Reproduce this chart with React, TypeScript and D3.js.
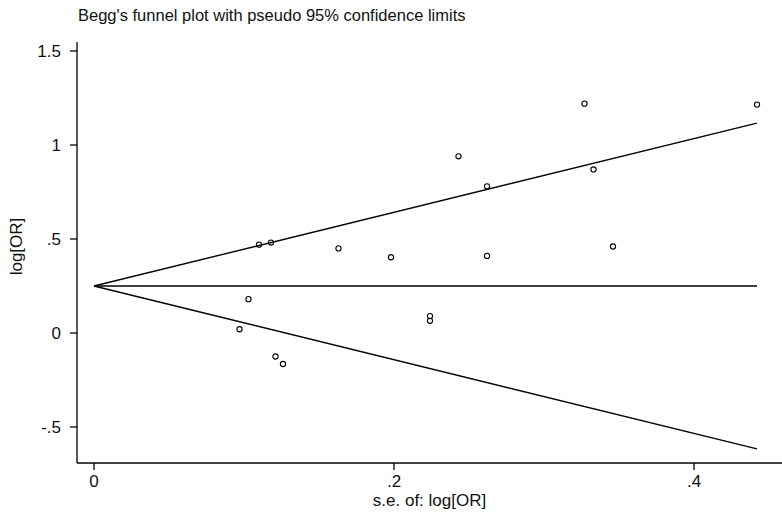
import React from "react";
import * as d3 from "d3";

const seValues = [0.097, 0.103, 0.11, 0.118, 0.121, 0.126, 0.163, 0.198, 0.224, 0.224, 0.243, 0.262, 0.262, 0.327, 0.333, 0.346, 0.442];
const logOrValues = [0.02, 0.18, 0.47, 0.481, -0.125, -0.165, 0.45, 0.403, 0.09, 0.065, 0.94, 0.78, 0.41, 1.22, 0.87, 0.46, 1.215];
const xTicks = [0, 0.2, 0.4];
const xTickLabels = ["0", ".2", ".4"];
const yTicks = [-0.5, 0, 0.5, 1, 1.5];
const yTickLabels = ["-.5", "0", ".5", "1", "1.5"];
const pooled = 0.25;
const title = "Begg's funnel plot with pseudo 95% confidence limits";
const xLabel = "s.e. of: log[OR]";
const yLabel = "log[OR]";

export default function App() {
  const W = 782, H = 517;
  const x = d3.scaleLinear().domain([0, 0.4]).range([94, 694]);
  const y = d3.scaleLinear().domain([0, 1.5]).range([333, 51]);
  const axisLeft = 77, axisBottom = 463, axisTop = 42, axisRight = 782;
  const maxSe = d3.max(seValues) as number;
  const line = d3.line<[number, number]>().x(d => x(d[0])).y(d => y(d[1]));
  const upper = line([[0, pooled], [maxSe, pooled + 1.96 * maxSe]]) || "";
  const lower = line([[0, pooled], [maxSe, pooled - 1.96 * maxSe]]) || "";
  const mid = line([[0, pooled], [maxSe, pooled]]) || "";
  const font = "Arial, 'Liberation Sans', sans-serif";
  return (
    <svg width={W} height={H} style={{ position: "absolute", left: 0, top: 0, background: "#fff" }} fontFamily={font}>
      <rect x={0} y={0} width={W} height={H} fill="#fff" />
      <text x={78} y={21} fontSize={16.5} fill="#111">{title}</text>
      <line x1={axisLeft} y1={axisTop} x2={axisLeft} y2={axisBottom} stroke="#000" strokeWidth={1.3} />
      <line x1={axisLeft} y1={axisBottom} x2={axisRight} y2={axisBottom} stroke="#000" strokeWidth={1.3} />
      {yTicks.map((t, i) => (
        <g key={"y" + i}>
          <line x1={axisLeft - 7} x2={axisLeft} y1={y(t)} y2={y(t)} stroke="#000" strokeWidth={1.3} />
          <text x={61} y={y(t) + 6} fontSize={17} textAnchor="end" fill="#111">{yTickLabels[i]}</text>
        </g>
      ))}
      {xTicks.map((t, i) => (
        <g key={"x" + i}>
          <line x1={x(t)} x2={x(t)} y1={axisBottom} y2={axisBottom + 7} stroke="#000" strokeWidth={1.3} />
          <text x={x(t)} y={487} fontSize={17} textAnchor="middle" fill="#111">{xTickLabels[i]}</text>
        </g>
      ))}
      <text x={(axisLeft + axisRight) / 2} y={506} fontSize={17} textAnchor="middle" fill="#111">{xLabel}</text>
      <text transform={`translate(22,${(axisTop + axisBottom) / 2 - 6}) rotate(-90)`} fontSize={17} textAnchor="middle" fill="#111">{yLabel}</text>
      <path d={upper} stroke="#000" strokeWidth={1.4} fill="none" />
      <path d={lower} stroke="#000" strokeWidth={1.4} fill="none" />
      <path d={mid} stroke="#000" strokeWidth={1.4} fill="none" />
      {seValues.map((s, i) => (
        <circle key={"p" + i} cx={x(s)} cy={y(logOrValues[i])} r={2.6} fill="none" stroke="#000" strokeWidth={1.1} />
      ))}
    </svg>
  );
}
